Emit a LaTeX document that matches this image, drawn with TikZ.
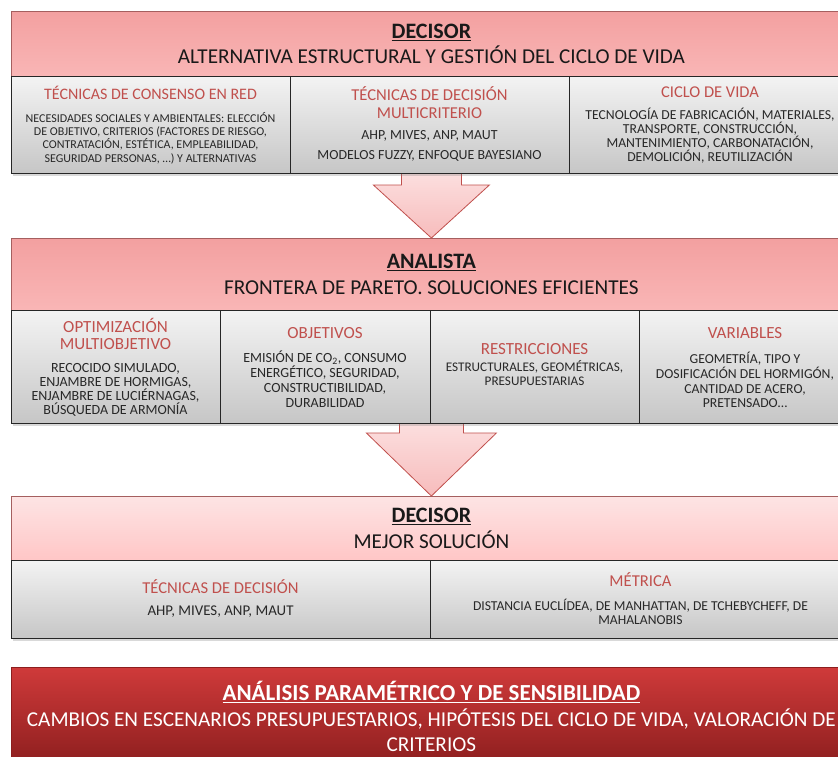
\documentclass[tikz,border=0pt]{standalone}
\usepackage{fontspec}
\setmainfont{Carlito}
\usetikzlibrary{shadows}

\definecolor{hdrtop}{RGB}{243,160,160}
\definecolor{hdrbot}{RGB}{249,182,182}
\definecolor{lighttop}{RGB}{253,228,228}
\definecolor{lightbot}{RGB}{255,198,198}
\definecolor{hdrline}{RGB}{165,95,95}
\definecolor{celltop}{RGB}{243,243,243}
\definecolor{cellbot}{RGB}{198,198,198}
\definecolor{titred}{RGB}{192,80,77}
\definecolor{bodytext}{RGB}{40,40,40}
\definecolor{arrowtop}{RGB}{252,224,224}
\definecolor{arrowbot}{RGB}{247,188,188}
\definecolor{arrowline}{RGB}{192,80,77}
\definecolor{darktop}{RGB}{207,58,58}
\definecolor{darkbot}{RGB}{140,30,30}

\newcommand{\hdtitle}[1]{{\fontsize{22}{25.5}\selectfont\bfseries\underline{#1}}}
\newcommand{\fsize}[2]{\fontsize{#1}{#2}\selectfont\lineskiplimit=-20pt}

\tikzset{
  header/.style={draw=hdrline, line width=0.8pt, top color=hdrtop, bottom color=hdrbot,
    anchor=north west, inner sep=0pt, minimum width=840pt, align=center,
    font=\fsize{21.2}{25.5}, text=black!90},
  lightheader/.style={header, top color=lighttop, bottom color=lightbot},
  darkheader/.style={header, draw=darkbot, top color=darktop, bottom color=darkbot, text=white},
  cell/.style={draw=black!85, line width=1.3pt, top color=celltop, bottom color=cellbot,
    anchor=north west, inner sep=0pt},
  celltitle/.style={align=center, inner sep=0pt, text=titred},
  cellbody/.style={align=center, inner sep=0pt, text=bodytext},
  arrowbox/.style={draw=arrowline, line width=0.8pt, top color=arrowtop, bottom color=arrowbot},
  boxshadow/.style={drop shadow={opacity=0.3, shadow xshift=1.5pt, shadow yshift=-2pt}}
}

\begin{document}
\begin{tikzpicture}[x=1pt, y=-1pt]
  \useasboundingbox (0,0) rectangle (838,756);
  \clip (0,0) rectangle (838,756);

  % Headers
  \node[header, boxshadow, minimum height=65pt] (h1) at (11,11)
    {\hdtitle{DECISOR}\\ ALTERNATIVA ESTRUCTURAL Y GESTIÓN DEL CICLO DE VIDA};
  \node[header, boxshadow, minimum height=72pt] (h2) at (11,238)
    {\hdtitle{ANALISTA}\\ FRONTERA DE PARETO. SOLUCIONES EFICIENTES};
  \node[lightheader, boxshadow, minimum height=64pt] (h3) at (11,496)
    {\hdtitle{DECISOR}\\ MEJOR SOLUCIÓN};

  % Arrows between the blocks
  \draw[arrowbox] (h2.north) -- ++(-58,-53) -- ++(28,0) -- ++(0,-15) -- ++(60,0)
    -- ++(0,15) -- ++(28,0) -- cycle;
  \draw[arrowbox] (h3.north) -- ++(-65,-63) -- ++(33,0) -- ++(0,-13) -- ++(64,0)
    -- ++(0,13) -- ++(33,0) -- cycle;

  % Top block cells
  \node[cell, boxshadow, minimum width=279pt, minimum height=97pt] (c11) at (11,76) {};
  \node[cell, boxshadow, minimum width=279pt, minimum height=97pt] (c12) at (290,76) {};
  \node[cell, boxshadow, minimum width=282pt, minimum height=97pt] (c13) at (569,76) {};
  \node[celltitle, font=\fsize{16}{18}] (t11) at (150.5,93) {TÉCNICAS DE CONSENSO EN RED};
  \node[cellbody, font=\fsize{12}{13.4}] (b11) at (150.5,138)
    {NECESIDADES SOCIALES Y AMBIENTALES: ELECCIÓN\\ DE OBJETIVO, CRITERIOS (FACTORES DE RIESGO,\\
     CONTRATACIÓN, ESTÉTICA, EMPLEABILIDAD,\\ SEGURIDAD PERSONAS, …) Y ALTERNATIVAS};
  \node[celltitle, font=\fsize{16.6}{18}] (t12) at (429.5,103) {TÉCNICAS DE DECISIÓN\\ MULTICRITERIO};
  \node[cellbody, font=\fsize{13.9}{19.5}] (b12) at (429.5,146)
    {AHP, MIVES, ANP, MAUT\\ MODELOS FUZZY, ENFOQUE BAYESIANO};
  \node[celltitle, font=\fsize{16.5}{18}] (t13) at (710,92) {CICLO DE VIDA};
  \node[cellbody, font=\fsize{13.7}{14}] (b13) at (710,136)
    {TECNOLOGÍA DE FABRICACIÓN, MATERIALES,\\ TRANSPORTE, CONSTRUCCIÓN,\\
     MANTENIMIENTO, CARBONATACIÓN,\\ DEMOLICIÓN, REUTILIZACIÓN};

  % Middle block cells
  \node[cell, boxshadow, minimum width=209pt, minimum height=113pt] (c21) at (11,310) {};
  \node[cell, boxshadow, minimum width=210pt, minimum height=113pt] (c22) at (220,310) {};
  \node[cell, boxshadow, minimum width=209pt, minimum height=113pt] (c23) at (430,310) {};
  \node[cell, boxshadow, minimum width=212pt, minimum height=113pt] (c24) at (639,310) {};
  \node[celltitle, font=\fsize{17}{17}] (t21) at (115.5,333.5) {OPTIMIZACIÓN\\ MULTIOBJETIVO};
  \node[cellbody, font=\fsize{14}{13.8}] (b21) at (115.5,390)
    {RECOCIDO SIMULADO,\\ ENJAMBRE DE HORMIGAS,\\ ENJAMBRE DE LUCIÉRNAGAS,\\ BÚSQUEDA DE ARMONÍA};
  \node[celltitle, font=\fsize{17}{17}] (t22) at (325,333) {OBJETIVOS};
  \node[cellbody, font=\fsize{14}{15}] (b22) at (325,379.5)
    {EMISIÓN DE CO\textsubscript{2}, CONSUMO\\ ENERGÉTICO, SEGURIDAD,\\ CONSTRUCTIBILIDAD,\\ DURABILIDAD};
  \node[celltitle, font=\fsize{17}{17}] (t23) at (534.5,349) {RESTRICCIONES};
  \node[cellbody, font=\fsize{13.2}{14}] (b23) at (534.5,373)
    {ESTRUCTURALES, GEOMÉTRICAS,\\ PRESUPUESTARIAS};
  \node[celltitle, font=\fsize{17}{17}] (t24) at (745,333) {VARIABLES};
  \node[cellbody, font=\fsize{13.7}{14.7}] (b24) at (745,380)
    {GEOMETRÍA, TIPO Y\\ DOSIFICACIÓN DEL HORMIGÓN,\\ CANTIDAD DE ACERO,\\ PRETENSADO…};

  % Lower block cells
  \node[cell, boxshadow, minimum width=419pt, minimum height=78pt] (c31) at (11,560) {};
  \node[cell, boxshadow, minimum width=421pt, minimum height=78pt] (c32) at (430,560) {};
  \node[celltitle, font=\fsize{16.6}{17}] (t31) at (220.5,587) {TÉCNICAS DE DECISIÓN};
  \node[cellbody, font=\fsize{14.9}{14.5}] (b31) at (220.5,612) {AHP, MIVES, ANP, MAUT};
  \node[celltitle, font=\fsize{16.6}{17}] (t32) at (640.5,580) {MÉTRICA};
  \node[cellbody, font=\fsize{13.6}{14.5}] (b32) at (640.5,612)
    {DISTANCIA EUCLÍDEA, DE MANHATTAN, DE TCHEBYCHEFF, DE\\ MAHALANOBIS};

  % Sensitivity analysis
  \node[darkheader, boxshadow, minimum height=99pt] (h4) at (11,667)
    {{\fontsize{23}{25}\selectfont\bfseries\underline{ANÁLISIS PARAMÉTRICO Y DE SENSIBILIDAD}}\\
     CAMBIOS EN ESCENARIOS PRESUPUESTARIOS, HIPÓTESIS DEL CICLO DE VIDA, VALORACIÓN DE\\ CRITERIOS};
\end{tikzpicture}
\end{document}
